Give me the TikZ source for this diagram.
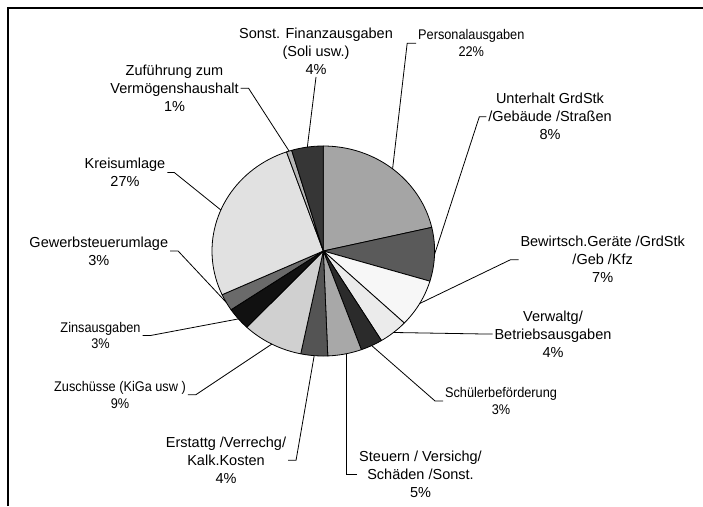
\documentclass[tikz,border=0pt]{standalone}
\usepackage{fontspec}
\setmainfont{Liberation Sans}
\newfontfamily\narrowfont[FakeStretch=0.91]{Liberation Sans}
\definecolor{cPers}{HTML}{A5A5A5}
\definecolor{cUnt}{HTML}{5A5A5A}
\definecolor{cBew}{HTML}{F7F7F7}
\definecolor{cVerw}{HTML}{EBEBEB}
\definecolor{cSchu}{HTML}{2B2B2B}
\definecolor{cSteu}{HTML}{A8A8A8}
\definecolor{cErst}{HTML}{545454}
\definecolor{cZusch}{HTML}{D0D0D0}
\definecolor{cZins}{HTML}{111111}
\definecolor{cGew}{HTML}{6A6A6A}
\definecolor{cKreis}{HTML}{E1E1E1}
\definecolor{cZuf}{HTML}{B5B5B5}
\definecolor{cSonst}{HTML}{363636}
\def\pcx{323.3}
\def\pcy{251}
\def\prx{111.3}
\def\pry{105}
\newcommand{\mypieslice}[3]{\filldraw[slice, fill=#3] (\pcx,\pcy) -- plot[domain=#1:#2, samples=40, variable=\t] ({\pcx+\prx*sin(\t)},{\pcy-\pry*cos(\t)}) -- cycle;}
\newcommand{\mypiept}[2]{\coordinate (#1) at ({\pcx+\prx*sin(#2)},{\pcy-\pry*cos(#2)});}
\begin{document}
\begin{tikzpicture}[x=1pt,y=-1pt,
  big/.style={font=\fontsize{14.5}{18}\selectfont, align=center, inner sep=0pt, outer sep=2pt, text=black},
  small/.style={font=\narrowfont\fontsize{14}{16.7}\selectfont, align=center, inner sep=0pt, outer sep=2pt, text=black},
  leader/.style={line width=0.8pt, draw=black},
  slice/.style={draw=black, line width=0.8pt, line join=round}]
\useasboundingbox (0,0) rectangle (703,506);
\draw[line width=2.5pt] (8,506) -- (8,8) -- (703,8);
% pie
\mypieslice{0}{77}{cPers}
\mypieslice{77}{106.7}{cUnt}
\mypieslice{106.7}{133.3}{cBew}
\mypieslice{133.3}{148.5}{cVerw}
\mypieslice{148.5}{160}{cSchu}
\mypieslice{160}{177.7}{cSteu}
\mypieslice{177.7}{191.7}{cErst}
\mypieslice{191.7}{223.4}{cZusch}
\mypieslice{223.4}{236}{cZins}
\mypieslice{236}{245.4}{cGew}
\mypieslice{245.4}{340.7}{cKreis}
\mypieslice{340.7}{343.5}{cZuf}
\mypieslice{343.5}{360}{cSonst}
% leader end points on the pie
\mypiept{pPers}{38.5}
\mypiept{pUnt}{91.85}
\mypiept{pBew}{120}
\mypiept{pVerw}{140.9}
\mypiept{pSchu}{154.25}
\coordinate (pSteu) at (346.7,354);
\mypiept{pErst}{184.7}
\mypiept{pZusch}{207.55}
\mypiept{pZins}{229.7}
\mypiept{pGew}{240.7}
\mypiept{pKreis}{293}
\mypiept{pZuf}{342.1}
\mypiept{pSonst}{351.75}
% labels
\node[small] (pers) at (471.3,43.3) {Personalausgaben\\22\%};
\node[big] (unt) at (550,116.7) {Unterhalt GrdStk\\/Gebäude /Straßen\\8\%};
\node[big] (bew) at (602.7,259.7) {Bewirtsch.Geräte /GrdStk\\/Geb /Kfz\\7\%};
\node[big] (verw) at (553,334) {Verwaltg/\\Betriebsausgaben\\4\%};
\node[small] (schu) at (501,401) {Schülerbeförderung\\3\%};
\node[big] (steu) at (420.5,474.5) {Steuern / Versichg/\\Schäden /Sonst.\\5\%};
\node[big] (erst) at (226,460.3) {Erstattg /Verrechg/\\Kalk.Kosten\\4\%};
\node[small] (zusch) at (120,394.7) {Zuschüsse (KiGa usw )\\9\%};
\node[small] (zins) at (100.5,335.5) {Zinsausgaben\\3\%};
\node[big] (gew) at (98.8,251) {Gewerbsteuerumlage\\3\%};
\node[big] (kreis) at (125,172.5) {Kreisumlage\\27\%};
\node[big] (zuf) at (174.5,88.3) {Zuführung zum\\Vermögenshaushalt\\1\%};
\node[big] (sonst) at (316,51.7) {Sonst. Finanzausgaben\\(Soli usw.)\\4\%};
% leaders
\draw[leader] (pers.west) -- ++(-9,0) -- (pPers);
\draw[leader] (unt.west) -- ++(-7,0) -- (pUnt);
\draw[leader] (bew.west) -- ++(-8,0) -- (pBew);
\draw[leader] (verw.west) -- ++(-8,0) -- (pVerw);
\draw[leader] (schu.west) -- ++(-8,0) -- (pSchu);
\draw[leader] (steu.west) -| (pSteu);
\draw[leader] (erst.east) -- ++(8,0) -- (pErst);
\draw[leader] (zusch.east) -- ++(8,0) -- (pZusch);
\draw[leader] (zins.east) -- ++(8,0) -- (pZins);
\draw[leader] (gew.east) -- ++(8,0) -- (pGew);
\draw[leader] (kreis.east) -- ++(7,0) -- (pKreis);
\draw[leader] (zuf.east) -- ++(8,0) -- (pZuf);
\draw[leader] (sonst.south) -- (pSonst);
\end{tikzpicture}
\end{document}
